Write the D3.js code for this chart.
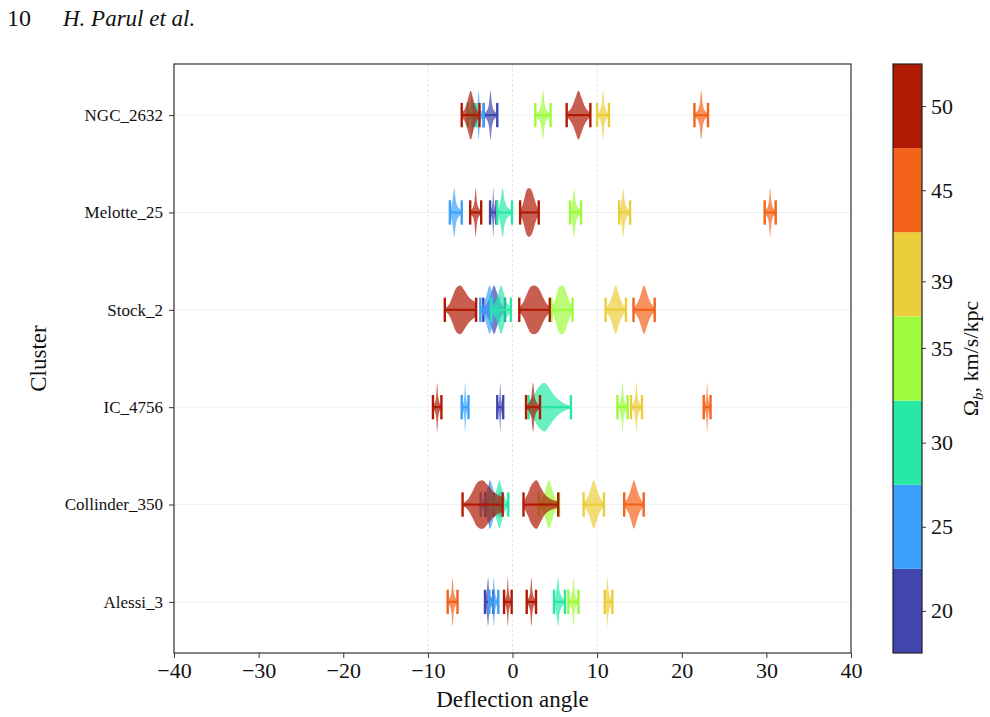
<!DOCTYPE html>
<html>
<head>
<meta charset="utf-8">
<script src="https://cdn.jsdelivr.net/npm/d3@7"></script>
<style>
  body { margin: 0; background: #fff; }
  svg text { font-family: "Liberation Serif", "DejaVu Serif", serif; fill: #111; }
</style>
</head>
<body>
<svg id="chart" width="990" height="717"></svg>
<script>
// clusters, bottom to top
const clusters = ['Alessi_3', 'Collinder_350', 'IC_4756', 'Stock_2', 'Melotte_25', 'NGC_2632'];

// colour bar levels (km/s/kpc) and bin edges
const omegaLevels = [20, 25, 30, 35, 39, 45, 50];
const omegaEdges = [17.5, 22.5, 27.5, 32.5, 36.5, 42.5, 47.5, 52.5];
const omegaColors = ['#4145ae', '#3aa1fa', '#27e9a5', '#9cfb3b', '#ebcd3b', '#f36219', '#b01a04'];

const xTicks = [-40, -30, -20, -10, 0, 10, 20, 30, 40];

// relative violin widths, 9 even steps from min to max
const shapes = {
  spike:   [0.08, 0.12, 0.2, 0.42, 1, 0.42, 0.2, 0.12, 0.08],
  spikeL:  [0.1, 0.25, 0.6, 1, 0.5, 0.28, 0.18, 0.12, 0.08],
  diamond: [0.1, 0.2, 0.4, 0.72, 1, 0.72, 0.4, 0.2, 0.1],
  bell:    [0.1, 0.3, 0.65, 0.95, 1, 0.9, 0.6, 0.3, 0.12],
  bellL:   [0.1, 0.45, 0.85, 1, 0.7, 0.4, 0.25, 0.18, 0.12],
  tail:    [0.05, 0.2, 0.55, 0.92, 1, 0.8, 0.55, 0.4, 0.3],
  skew:    [0.2, 0.5, 0.85, 1, 0.75, 0.45, 0.25, 0.12, 0.06]
};

// [omega, min, max, shape]
const alessi3 = [
  [20, -3.25, -2.27, 'spikeL'], [25, -2.74, -1.68, 'spike'], [30, 4.9, 6.2, 'spikeL'],
  [35, 6.6, 7.8, 'spike'], [39, 10.9, 11.8, 'spikeL'], [45, -7.66, -6.5, 'spike'],
  [50, -1.0, -0.1, 'spike'], [50, 1.68, 2.78, 'spike']
];
const collinder350 = [
  [20, -3.2, -2.2, 'spike'], [25, -3.76, -1.5, 'diamond'], [30, -2.6, -0.5, 'diamond'],
  [35, 3.1, 5.5, 'diamond'], [39, 8.4, 10.8, 'diamond'], [45, 13.2, 15.5, 'diamond'],
  [50, -5.9, -1.16, 'tail'], [50, 1.3, 5.4, 'bellL']
];
const ic4756 = [
  [20, -1.8, -1.1, 'spike'], [25, -6.0, -5.2, 'spike'], [30, 1.9, 6.9, 'skew'],
  [35, 12.4, 13.6, 'spike'], [39, 14.0, 15.3, 'spike'], [45, 22.6, 23.4, 'spike'],
  [50, -9.4, -8.4, 'spike'], [50, 1.6, 3.25, 'spike']
];
const stock2 = [
  [20, -3.45, -0.9, 'diamond'], [25, -3.8, -1.6, 'diamond'], [30, -2.5, -0.2, 'diamond'],
  [35, 4.6, 7.1, 'bell'], [39, 11.0, 13.4, 'diamond'], [45, 14.3, 16.8, 'diamond'],
  [50, -8.0, -4.3, 'tail'], [50, 0.8, 4.4, 'bell']
];
const melotte25 = [
  [20, -2.65, -1.9, 'spike'], [25, -7.4, -6.0, 'spikeL'], [30, -1.8, -0.06, 'spikeL'],
  [35, 6.8, 8.1, 'spikeL'], [39, 12.6, 13.9, 'spikeL'], [45, 29.8, 31.1, 'spike'],
  [50, -5.0, -3.7, 'spike'], [50, 0.9, 3.1, 'bell']
];
const ngc2632 = [
  [20, -3.4, -1.8, 'spike'], [25, -4.6, -3.4, 'spike'], [30, -5.3, -4.3, 'spike'],
  [35, 2.7, 4.5, 'spike'], [39, 10.0, 11.4, 'spike'], [45, 21.5, 23.1, 'spike'],
  [50, -6.0, -3.9, 'diamond'], [50, 6.4, 9.2, 'diamond']
];
const violinSets = [alessi3, collinder350, ic4756, stock2, melotte25, ngc2632];

const MARGINS = { left: 174, right: 851, top: 64, bottom: 653 };
const svg = d3.select('#chart');

const x = d3.scaleLinear().domain([-40, 40]).range([MARGINS.left, MARGINS.right]);
const y = d3.scaleLinear().domain([0.475, 6.525]).range([MARGINS.bottom, MARGINS.top]);
const color = d3.scaleOrdinal().domain(omegaLevels).range(omegaColors);

// header
svg.append('text').attr('x', 7).attr('y', 26).attr('font-size', 24).text('10');
svg.append('text').attr('x', 63).attr('y', 26).attr('font-size', 23)
  .attr('font-style', 'italic').text('H. Parul et al.');

// grid
const grid = svg.append('g').attr('class', 'grid');
grid.selectAll('.hgrid').data(clusters).join('line')
  .attr('x1', MARGINS.left).attr('x2', MARGINS.right)
  .attr('y1', (d, i) => y(i + 1)).attr('y2', (d, i) => y(i + 1))
  .attr('stroke', '#f0f0f0').attr('stroke-width', 1);
grid.selectAll('.vgrid').data([-10, 0, 10]).join('line')
  .attr('x1', d => x(d)).attr('x2', d => x(d))
  .attr('y1', MARGINS.top).attr('y2', MARGINS.bottom)
  .attr('stroke', '#e6e6e6').attr('stroke-width', 1).attr('stroke-dasharray', '3,2');

// violins, drawn by ascending omega so 50 sits on top
const rows = [];
violinSets.forEach((set, ci) => set.forEach(v => rows.push({
  pos: ci + 1, omega: v[0], lo: v[1], hi: v[2], shape: shapes[v[3]]
})));
rows.sort((a, b) => a.omega - b.omega);

const area = d3.area()
  .x(d => x(d.v))
  .y0(d => y(d.pos - 0.25 * d.w))
  .y1(d => y(d.pos + 0.25 * d.w))
  .curve(d3.curveCatmullRom);

const violins = svg.append('g').attr('class', 'violins');
rows.forEach(r => {
  const n = r.shape.length - 1;
  const pts = r.shape.map((w, i) => ({ v: r.lo + (r.hi - r.lo) * i / n, w, pos: r.pos }));
  const c = color(r.omega);
  const g = violins.append('g');
  g.append('path').attr('d', area(pts)).attr('fill', c).attr('fill-opacity', 0.7);
  g.append('line')
    .attr('x1', x(r.lo)).attr('x2', x(r.hi)).attr('y1', y(r.pos)).attr('y2', y(r.pos))
    .attr('stroke', c).attr('stroke-width', 2.2);
  g.selectAll('.cap').data([r.lo, r.hi]).join('line')
    .attr('x1', d => x(d)).attr('x2', d => x(d))
    .attr('y1', y(r.pos - 0.125)).attr('y2', y(r.pos + 0.125))
    .attr('stroke', c).attr('stroke-width', 2.4);
});

// frame
svg.append('rect')
  .attr('x', MARGINS.left).attr('y', MARGINS.top)
  .attr('width', MARGINS.right - MARGINS.left).attr('height', MARGINS.bottom - MARGINS.top)
  .attr('fill', 'none').attr('stroke', '#333').attr('stroke-width', 1.2);

// x axis
const axisX = svg.append('g').attr('transform', `translate(0,${MARGINS.bottom})`)
  .call(d3.axisBottom(x).tickValues(xTicks).tickSize(5).tickPadding(4)
    .tickFormat(d => d < 0 ? '\u2212' + Math.abs(d) : d));
axisX.select('.domain').remove();
axisX.selectAll('line').attr('stroke', '#333');
axisX.selectAll('text').attr('font-size', 22).attr('font-family', '"Liberation Serif", serif');

svg.append('text').attr('x', x(0)).attr('y', 707).attr('text-anchor', 'middle')
  .attr('font-size', 23).text('Deflection angle');

// y axis
const axisY = svg.append('g').attr('transform', `translate(${MARGINS.left},0)`)
  .call(d3.axisLeft(y).tickValues(clusters.map((d, i) => i + 1)).tickSize(5).tickPadding(6)
    .tickFormat(d => clusters[d - 1]));
axisY.select('.domain').remove();
axisY.selectAll('line').attr('stroke', '#333');
axisY.selectAll('text').attr('font-size', 17).attr('font-family', '"Liberation Serif", serif');

svg.append('text').attr('transform', `translate(46,${(MARGINS.top + MARGINS.bottom) / 2}) rotate(-90)`)
  .attr('text-anchor', 'middle').attr('font-size', 23).text('Cluster');

// colour bar
const cb = { left: 893, right: 922 };
const edgePx = omegaEdges.map((e, i) => MARGINS.bottom - i * (MARGINS.bottom - MARGINS.top) / (omegaEdges.length - 1));
const yc = d3.scaleLinear().domain(omegaEdges).range(edgePx);
const bar = svg.append('g').attr('class', 'colorbar');
bar.selectAll('rect').data(omegaLevels).join('rect')
  .attr('x', cb.left).attr('width', cb.right - cb.left)
  .attr('y', (d, i) => yc(omegaEdges[i + 1]))
  .attr('height', (d, i) => yc(omegaEdges[i]) - yc(omegaEdges[i + 1]))
  .attr('fill', d => color(d));
bar.append('rect').attr('x', cb.left).attr('y', MARGINS.top)
  .attr('width', cb.right - cb.left).attr('height', MARGINS.bottom - MARGINS.top)
  .attr('fill', 'none').attr('stroke', '#222').attr('stroke-width', 1.2);
const axisC = bar.append('g').attr('transform', `translate(${cb.right},0)`)
  .call(d3.axisRight(yc).tickValues(omegaLevels).tickSize(4).tickPadding(5));
axisC.select('.domain').remove();
axisC.selectAll('line').attr('stroke', '#333');
axisC.selectAll('text').attr('font-size', 22).attr('font-family', '"Liberation Serif", serif');

const cbLabel = svg.append('text')
  .attr('transform', `translate(978,${(MARGINS.top + MARGINS.bottom) / 2}) rotate(-90)`)
  .attr('text-anchor', 'middle').attr('font-size', 22);
cbLabel.append('tspan').text('\u03A9');
cbLabel.append('tspan').attr('font-style', 'italic').attr('font-size', 15).attr('dy', 5).text('b');
cbLabel.append('tspan').attr('dy', -5).text(', km/s/kpc');
</script>
</body>
</html>
